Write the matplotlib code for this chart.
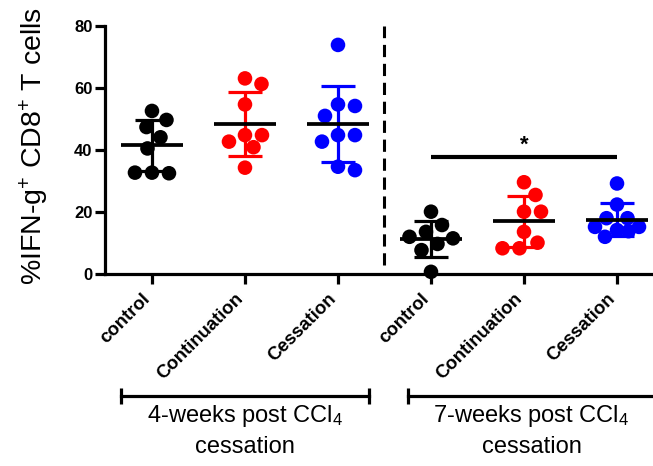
import numpy as np
import matplotlib
matplotlib.use("Agg")
import matplotlib.pyplot as plt
from matplotlib.transforms import blended_transform_factory, ScaledTranslation

plt.rcParams['font.family'] = ['Liberation Sans', 'DejaVu Sans']
plt.rcParams['mathtext.default'] = 'regular'

# --- data -------------------------------------------------------------
categories = ["control", "Continuation", "Cessation",
              "control", "Continuation", "Cessation"]
ctrl_4wk = [52.6, 49.7, 47.4, 44.1, 40.5, 32.7, 32.5, 32.7]
cont_4wk = [63.1, 61.3, 54.7, 44.8, 44.8, 42.7, 40.9, 34.3]
cess_4wk = [73.9, 54.7, 54.2, 51.0, 44.8, 44.8, 42.7, 34.6, 33.5]
ctrl_7wk = [20.1, 15.8, 13.6, 12.0, 11.5, 9.7, 7.7, 0.7]
cont_7wk = [29.6, 25.5, 20.1, 20.1, 13.6, 10.1, 8.3, 8.3]
cess_7wk = [29.2, 22.4, 18.0, 18.0, 15.2, 15.2, 14.2, 13.8, 12.0]
groups = [ctrl_4wk, cont_4wk, cess_4wk, ctrl_7wk, cont_7wk, cess_7wk]
time_labels = ["4-weeks post CCl$_4$", "7-weeks post CCl$_4$"]
time_sublabel = "cessation"
y_ticks = [0, 20, 40, 60, 80]
sig_pair = (3, 5)
sig_text = "*"

colors = ["black", "red", "blue", "black", "red", "blue"]

# --- figure -----------------------------------------------------------
W, H = 653, 466
fig = plt.figure(figsize=(W / 100, H / 100), dpi=100)
ax = fig.add_axes([105 / W, (H - 274) / H, 548 / W, 248 / H])
ax.set_xlim(-0.505, 5.387)
ax.set_ylim(0, 80)

# pixel scale of one data unit along each axis
px_x = (ax.transData.transform((1, 0)) - ax.transData.transform((0, 0)))[0]
px_y = (ax.transData.transform((0, 1)) - ax.transData.transform((0, 0)))[1]


def swarm(vals, diam=17.0, maxw=22.0):
    """Horizontal offsets (data units) that keep dots from overlapping."""
    placed = []
    offs = []
    steps = np.arange(0, maxw + 0.01, 0.5)
    for v in vals:
        chosen = None
        fallback, best_d = 0.0, -1.0
        for c in steps:
            for s in ([0.0] if c == 0 else [c, -c]):
                d = min((np.hypot(s - px, (v - pv) * px_y) for px, pv in placed),
                        default=np.inf)
                if d >= diam:
                    chosen = s
                    break
                if d > best_d:
                    best_d, fallback = d, s
            if chosen is not None:
                break
        if chosen is None:
            chosen = fallback
        placed.append((chosen, v))
        offs.append(chosen)
    return np.array(offs) / px_x


lw = 2.3
mean_half = 0.33
cap_half = 0.18
for i, (vals, col) in enumerate(zip(groups, colors)):
    vals = np.asarray(vals)
    xs = i + swarm(vals)
    ax.scatter(xs, vals, s=110, color=col, edgecolors='none', zorder=3,
               clip_on=False)
    m = vals.mean()
    sd = vals.std(ddof=1)
    ax.plot([i, i], [m - sd, m + sd], color=col, lw=lw, zorder=4,
            solid_capstyle='butt')
    ax.hlines([m - sd, m + sd], i - cap_half, i + cap_half, color=col, lw=lw,
              zorder=4)
    ax.hlines(m, i - mean_half, i + mean_half, color='black', lw=lw + 0.4,
              zorder=5)

# separator between the two time points
ax.plot([2.5, 2.5], [3, 80], color='black', lw=2.2, ls=(0, (4, 2.2)),
        clip_on=False)

# significance bar
a, b = sig_pair
ax.plot([a, b], [37.6, 37.6], color='black', lw=3, solid_capstyle='butt')
ax.text((a + b) / 2, 38.0, sig_text, ha='center', va='bottom', fontsize=16,
        fontweight='bold')

# axes styling
for side in ['top', 'right']:
    ax.spines[side].set_visible(False)
for side in ['left', 'bottom']:
    ax.spines[side].set_linewidth(2.3)
ax.set_yticks(y_ticks)
ax.set_yticklabels([str(t) for t in y_ticks], fontsize=12, fontweight='bold')
ax.set_xticks(range(len(categories)))
ax.set_xticklabels(categories, rotation=45, ha='right', va='center',
                   rotation_mode='anchor', fontsize=13.4, fontweight='bold')
ax.tick_params(axis='both', width=2.3, length=7, direction='out')
ax.tick_params(axis='x', pad=9)
ax.tick_params(axis='y', pad=2)
shift = ScaledTranslation(-4 / 100, 0, fig.dpi_scale_trans)
for lab in ax.get_xticklabels():
    lab.set_transform(lab.get_transform() + shift)

fig.text(34 / W, (H - 146) / H, "%IFN-g$^{+}$ CD8$^{+}$ T cells",
         rotation=90, ha='center', va='center', fontsize=20.5)

# time-point brackets beneath the category labels
trans = blended_transform_factory(ax.transData, fig.transFigure)
bracket_y = (H - 396) / H
for centre, label in zip([1.0, 4.08], time_labels):
    x0, x1 = centre - 1.33, centre + 1.33
    ax.plot([x0, x1], [bracket_y, bracket_y], transform=trans, color='black',
            lw=2.3, clip_on=False)
    ax.plot([x0, x1], [bracket_y, bracket_y], transform=trans, ls='none',
            marker='|', markersize=12, mew=2.3, color='black', clip_on=False)
    ax.text(centre, (H - 422) / H, label, transform=trans, ha='center',
            va='baseline', fontsize=17)
    ax.text(centre, (H - 453) / H, time_sublabel, transform=trans,
            ha='center', va='baseline', fontsize=17)

fig.savefig("out.png", dpi=100)
